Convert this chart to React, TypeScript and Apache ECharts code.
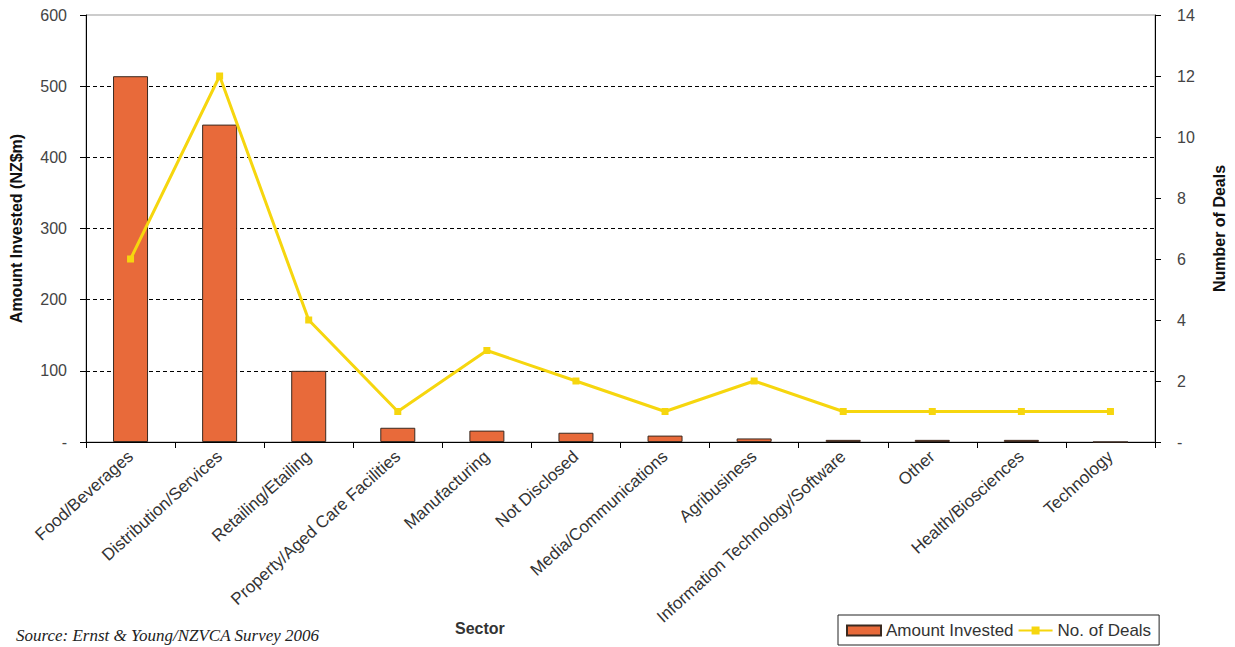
import React, { useEffect, useRef } from "react";
import * as echarts from "echarts";

const categories = [
  "Food/Beverages",
  "Distribution/Services",
  "Retailing/Etailing",
  "Property/Aged Care Facilities",
  "Manufacturing",
  "Not Disclosed",
  "Media/Communications",
  "Agribusiness",
  "Information Technology/Software",
  "Other",
  "Health/Biosciences",
  "Technology",
];
const amountInvested = [514, 446, 100, 20, 16, 13, 9, 5, 3, 3, 3, 0];
const numberOfDeals = [6, 12, 4, 1, 3, 2, 1, 2, 1, 1, 1, 1];

const FONT = "'Liberation Sans', Arial, sans-serif";

export default function App() {
  const ref = useRef<HTMLDivElement>(null);
  useEffect(() => {
    if (!ref.current) return;
    const chart = echarts.init(ref.current, null, { renderer: "svg" });
    const gridColors = ["#000", "#000", "#000", "#000", "#000", "#000", "rgba(0,0,0,0)"];
    chart.setOption({
      animation: false,
      backgroundColor: "#fff",
      textStyle: { fontFamily: FONT },
      grid: {
        left: 86,
        right: 77,
        top: 15,
        bottom: 205,
        show: true,
        borderColor: "#999",
        borderWidth: 1,
        containLabel: false,
      },
      legend: {
        left: 838,
        top: 615,
        padding: [7, 8, 6, 8],
        borderColor: "#222",
        borderWidth: 1,
        itemGap: 4,
        itemWidth: 34,
        itemHeight: 10,
        textStyle: { fontSize: 17, color: "#333", fontFamily: FONT },
        data: [
          { name: "Amount Invested", icon: "rect" },
          { name: "No. of Deals" },
        ],
      },
      xAxis: {
        type: "category",
        data: categories,
        axisLine: { lineStyle: { color: "#000", width: 1 } },
        axisTick: { show: true, length: 6, lineStyle: { color: "#000" } },
        axisLabel: {
          interval: 0,
          rotate: 42,
          fontSize: 17,
          color: "#333",
          margin: 12,
          fontFamily: FONT,
        },
      },
      yAxis: [
        {
          type: "value",
          min: 0,
          max: 600,
          interval: 100,
          name: "Amount Invested (NZ$m)",
          nameLocation: "middle",
          nameGap: 62,
          nameTextStyle: { fontWeight: "bold", fontSize: 16, color: "#111", fontFamily: FONT },
          axisLine: { show: true, lineStyle: { color: "#000" } },
          axisTick: { show: true, length: 6, lineStyle: { color: "#000" } },
          axisLabel: {
            fontSize: 16,
            color: "#444",
            margin: 19,
            formatter: (v: number) => (v === 0 ? "-" : String(v)),
          },
          splitLine: {
            show: true,
            lineStyle: { color: gridColors, type: [4, 3], width: 1 },
          },
        },
        {
          type: "value",
          min: 0,
          max: 14,
          interval: 2,
          position: "right",
          name: "Number of Deals",
          nameLocation: "middle",
          nameGap: 56,
          nameRotate: 90,
          nameTextStyle: { fontWeight: "bold", fontSize: 16, color: "#111", fontFamily: FONT },
          axisLine: { show: true, lineStyle: { color: "#000" } },
          axisTick: { show: true, length: 6, lineStyle: { color: "#000" } },
          axisLabel: {
            fontSize: 16,
            color: "#444",
            margin: 22,
            formatter: (v: number) => (v === 0 ? "-" : String(v)),
          },
          splitLine: { show: false },
        },
      ],
      series: [
        {
          name: "Amount Invested",
          type: "bar",
          data: amountInvested,
          barWidth: 35,
          itemStyle: { color: "#E86A3A", borderColor: "#3a2a20", borderWidth: 1 },
        },
        {
          name: "No. of Deals",
          type: "line",
          yAxisIndex: 1,
          data: numberOfDeals,
          symbol: "rect",
          symbolSize: 7,
          lineStyle: { color: "#F6D60E", width: 3 },
          itemStyle: { color: "#F6D60E" },
        },
      ],
      graphic: [
        {
          type: "text",
          left: 455,
          top: 620,
          style: {
            text: "Sector",
            fontSize: 16,
            fontWeight: "bold",
            fill: "#333",
            fontFamily: FONT,
          },
        },
        {
          type: "text",
          left: 16,
          top: 627,
          style: {
            text: "Source: Ernst & Young/NZVCA Survey 2006",
            fontSize: 17,
            fontStyle: "italic",
            fill: "#222",
            fontFamily: "'Liberation Serif', 'Times New Roman', serif",
          },
        },
      ],
    });
    return () => chart.dispose();
  }, []);
  return (
    <div
      ref={ref}
      style={{ position: "absolute", left: 0, top: 0, width: 1235, height: 647 }}
    />
  );
}
